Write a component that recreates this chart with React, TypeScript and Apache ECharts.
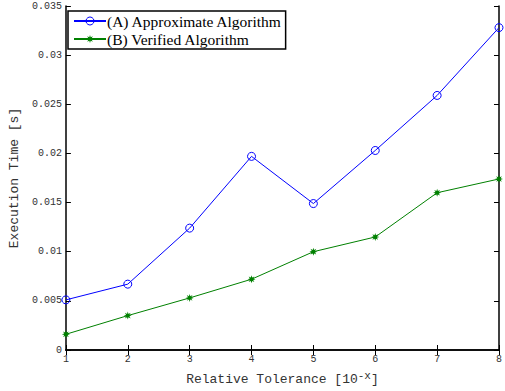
import React, { useEffect, useRef } from "react";
import * as echarts from "echarts";

const tolerances = [1, 2, 3, 4, 5, 6, 7, 8];
const approxTimes = [0.0051, 0.0067, 0.0124, 0.0197, 0.0149, 0.0203, 0.0259, 0.0328];
const verifiedTimes = [0.0016, 0.0035, 0.0053, 0.0072, 0.01, 0.0115, 0.016, 0.0174];
const seriesNames = ["(A) Approximate Algorithm", "(B) Verified Algorithm"];

const starPath =
  "path://M0,-10 L1.8,-4.2 L7.1,-7.1 L4.2,-1.8 L10,0 L4.2,1.8 L7.1,7.1 L1.8,4.2 L0,10 L-1.8,4.2 L-7.1,7.1 L-4.2,1.8 L-10,0 L-4.2,-1.8 L-7.1,-7.1 L-1.8,-4.2 Z";

const mono = "'Courier New', Courier, 'Liberation Mono', monospace";

export default function App() {
  const ref = useRef<HTMLDivElement>(null);
  useEffect(() => {
    if (!ref.current) return;
    const chart = echarts.init(ref.current, null, { renderer: "svg" });
    const axisLine = { show: true, lineStyle: { color: "#000", width: 1.5 } };
    const tickStyle = { show: true, inside: true, length: 5, lineStyle: { color: "#000", width: 1 } };
    chart.setOption({
      animation: false,
      backgroundColor: "#fff",
      grid: { left: 64, right: 2, top: 6, bottom: 40, containLabel: false },
      legend: {
        show: true,
        left: 68,
        top: 11,
        orient: "vertical",
        data: seriesNames,
        borderColor: "#000",
        borderWidth: 1.5,
        padding: [2, 3, 2, 5],
        itemGap: 2,
        itemWidth: 32,
        itemHeight: 10,
        backgroundColor: "#fff",
        itemStyle: { borderWidth: 1 },
        textStyle: { fontFamily: "Liberation Serif", fontSize: 15.5, lineHeight: 16, color: "#000", padding: [0, 0, 0, -4] },
      },
      xAxis: [
        {
          type: "value",
          min: 1,
          max: 8,
          interval: 1,
          position: "bottom",
          axisLine,
          axisTick: tickStyle,
          splitLine: { show: false },
          axisLabel: { fontFamily: mono, fontSize: 10, color: "#333", margin: 4 },
          name: "Relative Tolerance [10{sup|-x}]",
          nameLocation: "middle",
          nameGap: 20,
          nameTextStyle: {
            fontFamily: mono,
            fontSize: 13,
            color: "#333",
            rich: { sup: { fontFamily: mono, fontSize: 11, color: "#333", verticalAlign: "top", padding: [0, 0, 8, 0] } },
          },
        },
        {
          type: "value",
          min: 1,
          max: 8,
          interval: 1,
          position: "top",
          axisLine,
          axisTick: tickStyle,
          axisLabel: { show: false },
          splitLine: { show: false },
        },
      ],
      yAxis: [
        {
          type: "value",
          min: 0,
          max: 0.035,
          interval: 0.005,
          position: "left",
          axisLine,
          axisTick: tickStyle,
          splitLine: { show: false },
          axisLabel: { fontFamily: mono, fontSize: 10, color: "#333", margin: 4, formatter: (v: number) => String(parseFloat(v.toFixed(3))) },
          name: "Execution Time [s]",
          nameLocation: "middle",
          nameGap: 43,
          nameTextStyle: { fontFamily: mono, fontSize: 13, color: "#333" },
        },
        {
          type: "value",
          min: 0,
          max: 0.035,
          interval: 0.005,
          position: "right",
          axisLine,
          axisTick: tickStyle,
          axisLabel: { show: false },
          splitLine: { show: false },
        },
      ],
      series: [
        {
          name: seriesNames[0],
          type: "line",
          data: tolerances.map((t, i) => [t, approxTimes[i]]),
          symbol: "circle",
          symbolSize: 8,
          itemStyle: { color: "transparent", borderColor: "#0000ff", borderWidth: 1 },
          lineStyle: { color: "#0000ff", width: 1 },
        },
        {
          name: seriesNames[1],
          type: "line",
          data: tolerances.map((t, i) => [t, verifiedTimes[i]]),
          symbol: starPath,
          symbolSize: 8,
          itemStyle: { color: "#008000" },
          lineStyle: { color: "#008000", width: 1 },
        },
      ],
    });
    return () => chart.dispose();
  }, []);
  return <div ref={ref} style={{ width: 505, height: 391, position: "absolute", left: 0, top: 0 }} />;
}
